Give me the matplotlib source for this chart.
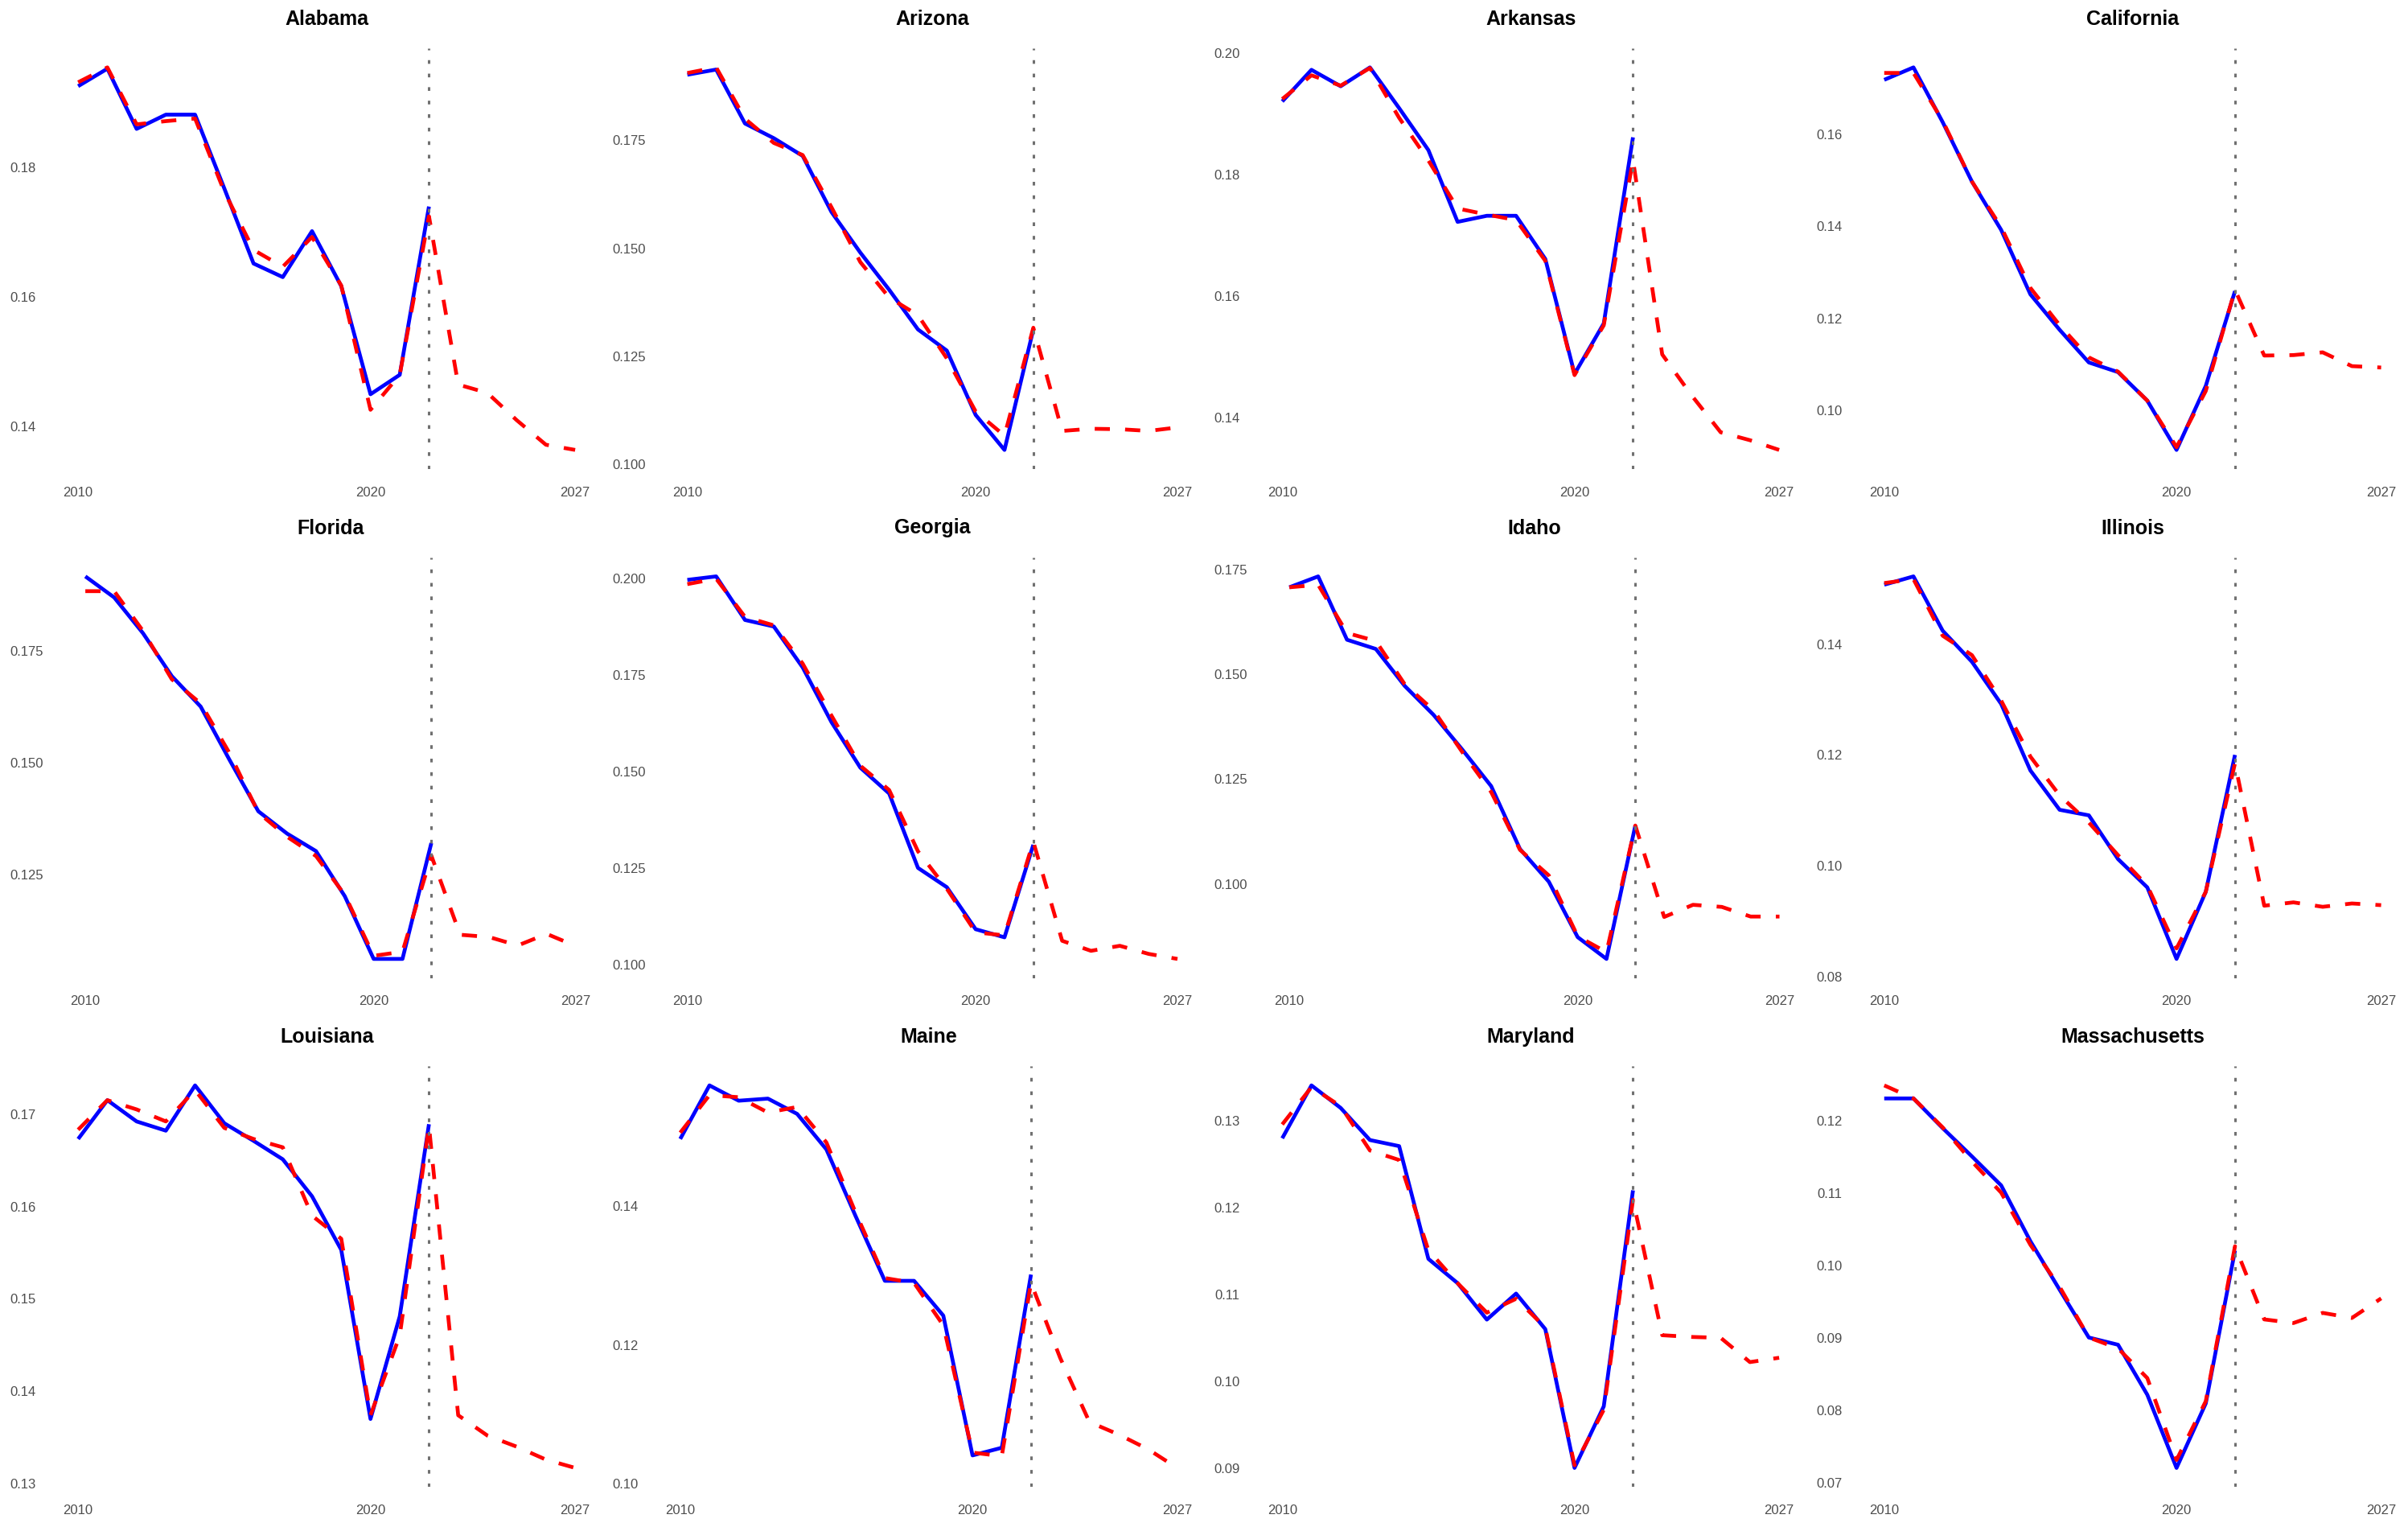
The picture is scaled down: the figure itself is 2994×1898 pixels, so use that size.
import matplotlib
matplotlib.use("Agg")
import matplotlib.pyplot as plt
import numpy as np

plt.rcParams['font.family'] = ['Liberation Sans', 'DejaVu Sans']

years_actual = list(range(2010, 2023))
years_fitted = list(range(2010, 2028))
states = ["Alabama", "Arizona", "Arkansas", "California",
          "Florida", "Georgia", "Idaho", "Illinois",
          "Louisiana", "Maine", "Maryland", "Massachusetts"]

alabama_actual = [0.1926, 0.1953, 0.1860, 0.1882, 0.1882, 0.1768, 0.1652, 0.1631, 0.1702, 0.1617, 0.1450, 0.1480, 0.1740]
alabama_fitted = [0.1932, 0.1955, 0.1867, 0.1872, 0.1876, 0.1763, 0.1673, 0.1647, 0.1693, 0.1618, 0.1426, 0.1480, 0.1725, 0.1465, 0.1452, 0.1410, 0.1372, 0.1364]
arizona_actual = [0.1902, 0.1914, 0.1789, 0.1755, 0.1714, 0.1584, 0.1490, 0.1404, 0.1312, 0.1263, 0.1114, 0.1033, 0.1312]
arizona_fitted = [0.1906, 0.1919, 0.1800, 0.1744, 0.1716, 0.1595, 0.1468, 0.1386, 0.1345, 0.1245, 0.1122, 0.1066, 0.1316, 0.1077, 0.1082, 0.1081, 0.1077, 0.1085]
arkansas_actual = [0.1920, 0.1972, 0.1945, 0.1976, 0.1909, 0.1840, 0.1722, 0.1732, 0.1732, 0.1661, 0.1472, 0.1555, 0.1861]
arkansas_fitted = [0.1924, 0.1963, 0.1946, 0.1975, 0.1893, 0.1823, 0.1744, 0.1734, 0.1725, 0.1658, 0.1470, 0.1552, 0.1824, 0.1504, 0.1437, 0.1376, 0.1363, 0.1347]
california_actual = [0.1718, 0.1745, 0.1626, 0.1497, 0.1392, 0.1252, 0.1175, 0.1104, 0.1083, 0.1021, 0.0914, 0.1053, 0.1259]
california_fitted = [0.1733, 0.1733, 0.1629, 0.1497, 0.1398, 0.1266, 0.1185, 0.1115, 0.1084, 0.1021, 0.0920, 0.1042, 0.1262, 0.1119, 0.1120, 0.1126, 0.1096, 0.1093]
florida_actual = [0.1917, 0.1870, 0.1790, 0.1694, 0.1626, 0.1507, 0.1392, 0.1342, 0.1303, 0.1202, 0.1062, 0.1062, 0.1321]
florida_fitted = [0.1884, 0.1884, 0.1795, 0.1687, 0.1633, 0.1522, 0.1389, 0.1335, 0.1292, 0.1205, 0.1069, 0.1078, 0.1293, 0.1116, 0.1111, 0.1092, 0.1118, 0.1091]
georgia_actual = [0.1997, 0.2006, 0.1893, 0.1876, 0.1770, 0.1628, 0.1510, 0.1443, 0.1250, 0.1200, 0.1091, 0.1070, 0.1310]
georgia_fitted = [0.1986, 0.2000, 0.1901, 0.1879, 0.1780, 0.1645, 0.1515, 0.1452, 0.1293, 0.1196, 0.1083, 0.1075, 0.1318, 0.1061, 0.1035, 0.1048, 0.1027, 0.1014]
idaho_actual = [0.1707, 0.1733, 0.1582, 0.1560, 0.1472, 0.1403, 0.1320, 0.1233, 0.1083, 0.1005, 0.0873, 0.0821, 0.1139]
idaho_fitted = [0.1707, 0.1713, 0.1598, 0.1579, 0.1476, 0.1414, 0.1314, 0.1219, 0.1081, 0.1020, 0.0875, 0.0837, 0.1139, 0.0921, 0.0950, 0.0945, 0.0922, 0.0922]
illinois_actual = [0.1507, 0.1522, 0.1424, 0.1368, 0.1292, 0.1172, 0.1101, 0.1091, 0.1012, 0.0961, 0.0832, 0.0953, 0.1200]
illinois_fitted = [0.1510, 0.1517, 0.1415, 0.1380, 0.1298, 0.1197, 0.1127, 0.1078, 0.1019, 0.0964, 0.0851, 0.0953, 0.1185, 0.0928, 0.0934, 0.0926, 0.0932, 0.0929]
louisiana_actual = [0.1673, 0.1715, 0.1692, 0.1682, 0.1731, 0.1690, 0.1671, 0.1651, 0.1611, 0.1553, 0.1370, 0.1481, 0.1689]
louisiana_fitted = [0.1683, 0.1715, 0.1705, 0.1692, 0.1726, 0.1685, 0.1673, 0.1664, 0.1590, 0.1565, 0.1374, 0.1460, 0.1687, 0.1374, 0.1352, 0.1340, 0.1326, 0.1317]
maine_actual = [0.1496, 0.1573, 0.1551, 0.1554, 0.1532, 0.1481, 0.1385, 0.1292, 0.1292, 0.1242, 0.1041, 0.1052, 0.1301]
maine_fitted = [0.1505, 0.1559, 0.1556, 0.1534, 0.1542, 0.1491, 0.1390, 0.1296, 0.1289, 0.1228, 0.1045, 0.1040, 0.1289, 0.1181, 0.1089, 0.1071, 0.1050, 0.1023]
maryland_actual = [0.1280, 0.1341, 0.1315, 0.1278, 0.1271, 0.1141, 0.1113, 0.1071, 0.1101, 0.1060, 0.0900, 0.0971, 0.1220]
maryland_fitted = [0.1296, 0.1339, 0.1317, 0.1266, 0.1255, 0.1151, 0.1113, 0.1079, 0.1095, 0.1062, 0.0903, 0.0967, 0.1209, 0.1053, 0.1051, 0.1050, 0.1022, 0.1027]
massachusetts_actual = [0.1231, 0.1231, 0.1190, 0.1151, 0.1111, 0.1034, 0.0967, 0.0901, 0.0891, 0.0822, 0.0721, 0.0810, 0.1021]
massachusetts_fitted = [0.1249, 0.1231, 0.1191, 0.1144, 0.1101, 0.1029, 0.0971, 0.0901, 0.0886, 0.0845, 0.0732, 0.0813, 0.1027, 0.0926, 0.0921, 0.0935, 0.0928, 0.0955]

actual = [alabama_actual, arizona_actual, arkansas_actual, california_actual,
          florida_actual, georgia_actual, idaho_actual, illinois_actual,
          louisiana_actual, maine_actual, maryland_actual, massachusetts_actual]
fitted = [alabama_fitted, arizona_fitted, arkansas_fitted, california_fitted,
          florida_fitted, georgia_fitted, idaho_fitted, illinois_fitted,
          louisiana_fitted, maine_fitted, maryland_fitted, massachusetts_fitted]

y_tick_labels = [
    ["0.14", "0.16", "0.18"],
    ["0.100", "0.125", "0.150", "0.175"],
    ["0.14", "0.16", "0.18", "0.20"],
    ["0.10", "0.12", "0.14", "0.16"],
    ["0.125", "0.150", "0.175"],
    ["0.100", "0.125", "0.150", "0.175", "0.200"],
    ["0.100", "0.125", "0.150", "0.175"],
    ["0.08", "0.10", "0.12", "0.14"],
    ["0.13", "0.14", "0.15", "0.16", "0.17"],
    ["0.10", "0.12", "0.14"],
    ["0.09", "0.10", "0.11", "0.12", "0.13"],
    ["0.07", "0.08", "0.09", "0.10", "0.11", "0.12"],
]
x_ticks = [2010, 2020, 2027]
cutoff_year = 2022

W, H = 2994, 1898
fig = plt.figure(figsize=(W / 100, H / 100), dpi=100)
fig.patch.set_facecolor("white")

col_pitch = W / 4
row_pitch = H / 3
tick_fs = 12
tick_color = "#4D4D4D"

axes = []
for i, st in enumerate(states):
    r, c = divmod(i, 4)
    x_off = c * col_pitch
    y_off = r * row_pitch
    top = y_off + 60
    bottom = y_off + 583
    right = x_off + 746
    left = x_off + 70
    ax = fig.add_axes([left / W, 1 - bottom / H, (right - left) / W, (bottom - top) / H])
    ax.plot(years_actual, actual[i], color="#0000FF", lw=3.4, solid_capstyle="butt", zorder=2)
    ax.plot(years_fitted, fitted[i], color="#FF0000", lw=3.4, linestyle=(0, (4, 4)),
            dash_capstyle="butt", zorder=3)
    ax.margins(x=0.05, y=0.05)
    ax.axvline(cutoff_year, color="#707070", lw=2.2, linestyle=(0, (1.5, 4.0)), zorder=4)
    yt = [float(s) for s in y_tick_labels[i]]
    ax.set_yticks(yt)
    ax.set_yticklabels(y_tick_labels[i])
    ax.set_xticks(x_ticks)
    ax.set_xticklabels([str(x) for x in x_ticks])
    ax.tick_params(length=0, pad=15.5, labelsize=tick_fs, labelcolor=tick_color)
    for sp in ax.spines.values():
        sp.set_visible(False)
    ax.set_facecolor("white")
    ax.set_title(st, fontsize=18, fontweight="bold", pad=21, color="black")
    axes.append((ax, x_off, top, bottom, right))

fig.canvas.draw()
renderer = fig.canvas.get_renderer()
for ax, x_off, top, bottom, right in axes:
    wmax = max(t.get_window_extent(renderer).width for t in ax.get_yticklabels())
    left = x_off + 12 + wmax + 22
    ax.set_position([left / W, 1 - bottom / H, (right - left) / W, (bottom - top) / H])

fig.savefig("out.png", dpi=100, facecolor="white")
